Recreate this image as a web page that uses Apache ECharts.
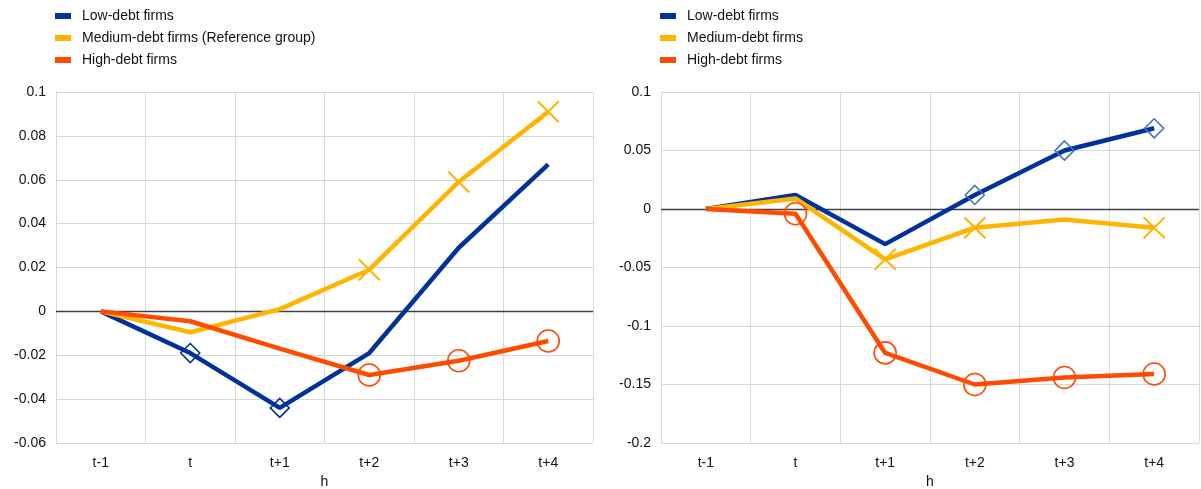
<!DOCTYPE html>
<html>
<head>
<meta charset="utf-8">
<script src="https://cdn.jsdelivr.net/npm/echarts@6/dist/echarts.min.js"></script>
<style>
html,body{margin:0;padding:0;background:#fff;}
#chart{width:1201px;height:489px;}
</style>
</head>
<body>
<div id="chart"></div>
<script>
var categories = ['t-1', 't', 't+1', 't+2', 't+3', 't+4'];

var leftNames = ['Low-debt firms', 'Medium-debt firms (Reference group)', 'High-debt firms'];
var rightNames = ['Low-debt firms', 'Medium-debt firms', 'High-debt firms'];

var leftLow = [0, -0.019, -0.044, -0.019, 0.029, 0.067];
var leftMedium = [0, -0.0095, 0.001, 0.019, 0.059, 0.091];
var leftHigh = [0, -0.0045, -0.017, -0.029, -0.0225, -0.0135];

var leftLowSig = [0, 1, 1, 0, 0, 0];
var leftMediumSig = [0, 0, 0, 1, 1, 1];
var leftHighSig = [0, 0, 0, 1, 1, 1];

var rightLow = [0, 0.012, -0.030, 0.012, 0.050, 0.069];
var rightMedium = [0, 0.009, -0.043, -0.016, -0.009, -0.016];
var rightHigh = [0, -0.004, -0.123, -0.150, -0.144, -0.141];

var rightLowSig = [0, 0, 0, 1, 1, 1];
var rightMediumSig = [0, 0, 1, 1, 0, 1];
var rightHighSig = [0, 1, 1, 1, 1, 1];

var leftYTicks = {min: -0.06, max: 0.1, interval: 0.02};
var rightYTicks = {min: -0.2, max: 0.1, interval: 0.05};

var colLow = '#003299', colMed = '#ffb400', colHigh = '#ff4b00';
var xPath = 'path://M0,0 L10,10 M10,0 L0,10';
var FONT = 'Liberation Sans, Arial, sans-serif';

function buildData(vals, sig, symbol, size, markColor, bw) {
  return vals.map(function (v, i) {
    if (sig[i]) {
      return {value: v, symbol: symbol, symbolSize: size,
        itemStyle: {color: 'none', borderColor: markColor, borderWidth: bw}};
    }
    return {value: v, symbol: 'none'};
  });
}

function lineSeries(name, idx, vals, sig, color, symbol, size, markColor, bw, withZero) {
  var s = {
    name: name, type: 'line', xAxisIndex: idx, yAxisIndex: idx,
    data: buildData(vals, sig, symbol, size, markColor, bw),
    showSymbol: true, showAllSymbol: true,
    lineStyle: {color: color, width: 4.5},
    itemStyle: {color: color},
    emphasis: {disabled: true},
    animation: false, z: 3
  };
  if (withZero) {
    s.markLine = {
      silent: true, symbol: 'none', label: {show: false},
      lineStyle: {color: '#404040', width: 1.3, type: 'solid'},
      data: [{yAxis: 0}], z: 1
    };
  }
  return s;
}

var textStyle = {fontFamily: FONT, color: '#111', fontSize: 14, padding: [0, 0, 0, 6]};

function xAxis(idx) {
  return {
    type: 'category', gridIndex: idx, data: categories, boundaryGap: true,
    axisLine: {show: true, lineStyle: {color: '#d9d9d9', width: 1}},
    axisTick: {show: false},
    splitLine: {show: true, lineStyle: {color: '#d9d9d9', width: 1}},
    axisLabel: {color: '#111', fontSize: 14, fontFamily: FONT, margin: 13},
    name: 'h', nameLocation: 'middle', nameGap: 32,
    nameTextStyle: {color: '#111', fontSize: 14, fontFamily: FONT}
  };
}
function yAxis(idx, t) {
  return {
    type: 'value', gridIndex: idx, min: t.min, max: t.max, interval: t.interval,
    axisLine: {show: true, lineStyle: {color: '#d9d9d9', width: 1}},
    axisTick: {show: false},
    splitLine: {show: true, lineStyle: {color: '#d9d9d9', width: 1}},
    axisLabel: {color: '#111', fontSize: 14, fontFamily: FONT, margin: 10}
  };
}

var chart = echarts.init(document.getElementById('chart'), null, {renderer: 'canvas'});
chart.setOption({
  backgroundColor: '#fff',
  animation: false,
  legend: [
    {data: leftNames, left: 50, top: 4, orient: 'vertical', itemGap: 8, itemWidth: 16, itemHeight: 6,
     icon: 'rect', textStyle: textStyle, selectedMode: false},
    {data: rightNames, left: 655, top: 4, orient: 'vertical', itemGap: 8, itemWidth: 16, itemHeight: 6,
     icon: 'rect', textStyle: textStyle, selectedMode: false}
  ],
  grid: [
    {left: 56, right: 1201 - 593, top: 92, bottom: 46, outerBoundsMode: 'none', containLabel: false},
    {left: 661, right: 2, top: 92, bottom: 46, outerBoundsMode: 'none', containLabel: false}
  ],
  xAxis: [xAxis(0), xAxis(1)],
  yAxis: [yAxis(0, leftYTicks), yAxis(1, rightYTicks)],
  series: [
    lineSeries(leftNames[0], 0, leftLow, leftLowSig, colLow, 'diamond', 19, colLow, 1.6, true),
    lineSeries(leftNames[1], 0, leftMedium, leftMediumSig, colMed, xPath, 21, colMed, 2, false),
    lineSeries(leftNames[2], 0, leftHigh, leftHighSig, colHigh, 'circle', 22, colHigh, 1.6, false),
    lineSeries(rightNames[0], 1, rightLow, rightLowSig, colLow, 'diamond', 19, '#4472c4', 1.6, true),
    lineSeries(rightNames[1], 1, rightMedium, rightMediumSig, colMed, xPath, 21, colMed, 2, false),
    lineSeries(rightNames[2], 1, rightHigh, rightHighSig, colHigh, 'circle', 22, colHigh, 1.6, false)
  ]
});
</script>
</body>
</html>
